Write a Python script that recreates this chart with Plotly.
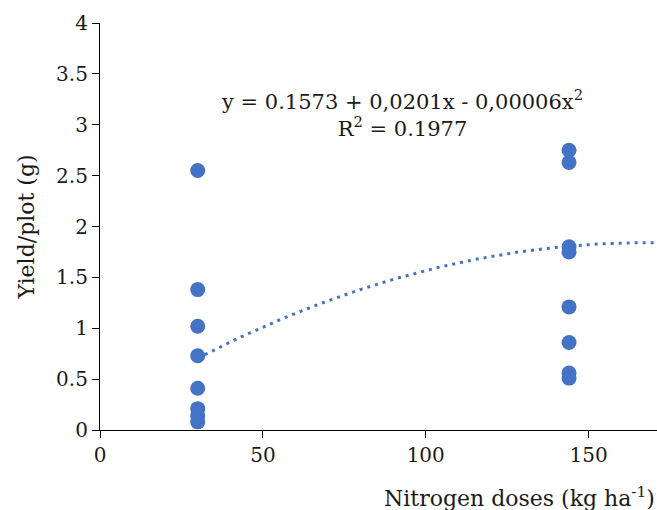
import numpy as np
import plotly.graph_objects as go

# Observed data
dose_low = [30, 30, 30, 30, 30, 30, 30, 30]
yield_low = [2.55, 1.38, 1.02, 0.73, 0.41, 0.21, 0.14, 0.08]
dose_high = [144, 144, 144, 144, 144, 144, 144, 144]
yield_high = [2.75, 2.63, 1.80, 1.75, 1.21, 0.86, 0.56, 0.51]

# Trendline coefficients as shown in the chart
b0, b1, b2 = 0.1573, 0.0201, -0.00006
trend_start, trend_end = 30, 171

x_ticks = [0, 50, 100, 150]
y_ticks = [0, 0.5, 1, 1.5, 2, 2.5, 3, 3.5, 4]

color = "#4472C4"
font_family = "DejaVu Serif"

xs = np.linspace(trend_start, trend_end, 200)
ys = b0 + b1 * xs + b2 * xs ** 2

fig = go.Figure()
fig.add_trace(go.Scatter(
    x=dose_low + dose_high, y=yield_low + yield_high, mode="markers",
    marker=dict(color=color, size=15), showlegend=False))
fig.add_trace(go.Scatter(
    x=xs, y=ys, mode="lines",
    line=dict(color=color, width=3, dash="3px,5px"), showlegend=False))

fig.update_layout(
    width=657, height=510,
    margin=dict(l=100, r=0, t=23, b=80),
    plot_bgcolor="white", paper_bgcolor="white",
    font=dict(family=font_family, size=20, color="#1a1a1a"),
    xaxis=dict(range=[0, 171], tickvals=x_ticks, showgrid=False, zeroline=False,
               showline=True, linecolor="black", linewidth=1.2,
               ticks="outside", ticklen=7, tickcolor="black"),
    yaxis=dict(range=[0, 4], tickvals=y_ticks, showgrid=False, zeroline=False,
               showline=True, linecolor="black", linewidth=1.2,
               ticks="outside", ticklen=7, tickcolor="black",
               title=dict(text="Yield/plot (g)", font=dict(size=22), standoff=15)),
    annotations=[
        dict(text="Nitrogen doses (kg ha<sup>-1</sup>)", xref="paper", yref="paper",
             x=1, y=-0.165, xanchor="right", yanchor="middle", showarrow=False,
             font=dict(size=22)),
        dict(text="y = 0.1573 + 0,0201x - 0,00006x<sup>2</sup><br>R<sup>2</sup> = 0.1977",
             xref="x", yref="y", x=92.7, y=3.11, xanchor="center", yanchor="middle",
             showarrow=False, font=dict(size=21)),
    ],
)

fig.write_html("out.html", config={"displayModeBar": False},
               post_script="document.body.style.margin='0';")
